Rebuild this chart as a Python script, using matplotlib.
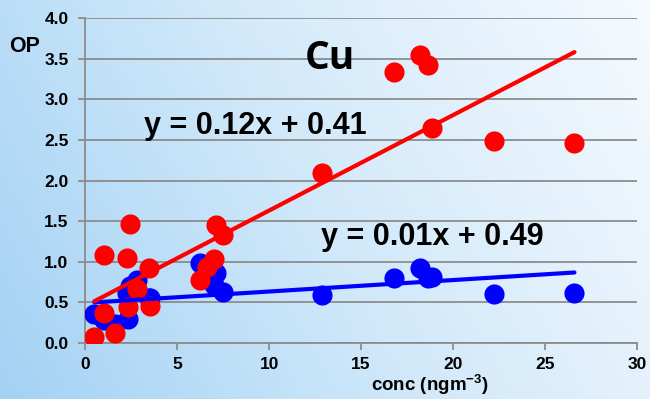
import numpy as np
import matplotlib
matplotlib.use('Agg')
import matplotlib.pyplot as plt
from matplotlib.colors import LinearSegmentedColormap

# Cu concentration (ngm-3) and OP for the two assays
conc = [0.5, 1.6, 1.0, 2.35, 3.5, 2.8, 3.45, 1.05, 2.25, 2.45,
        6.25, 6.6, 7.0, 7.1, 7.5,
        12.9, 16.8, 18.2, 18.65, 18.85, 22.2, 26.6]
op_red = [0.07, 0.12, 0.37, 0.44, 0.46, 0.66, 0.93, 1.09, 1.05, 1.46,
          0.78, 0.94, 1.04, 1.45, 1.33,
          2.09, 3.34, 3.55, 3.42, 2.65, 2.49, 2.46]
op_blue = [0.36, 0.24, 0.28, 0.30, 0.55, 0.78, 0.56, 0.30, 0.62, 0.70,
           0.98, 0.90, 0.72, 0.86, 0.63,
           0.59, 0.80, 0.93, 0.80, 0.81, 0.60, 0.62]

# trendlines
red_fit = (0.1174, 0.457)
blue_fit = (0.0141, 0.494)
red_label = 'y = 0.12x + 0.41'
blue_label = 'y = 0.01x + 0.49'

xticks = [0, 5, 10, 15, 20, 25, 30]
yticks = [0.0, 0.5, 1.0, 1.5, 2.0, 2.5, 3.0, 3.5, 4.0]

plt.rcParams['font.family'] = ['Liberation Sans', 'DejaVu Sans']
plt.rcParams['font.weight'] = 'bold'
plt.rcParams['mathtext.fontset'] = 'custom'
plt.rcParams['mathtext.bf'] = 'Liberation Sans:bold'
plt.rcParams['mathtext.rm'] = 'Liberation Sans:bold'

fig = plt.figure(figsize=(6.5, 3.99), dpi=100)

# light blue gradient background
bg = fig.add_axes([0, 0, 1, 1], zorder=-1)
gx, gy = np.meshgrid(np.linspace(0, 1, 300), np.linspace(0, 1, 200))
grad = np.clip(0.75 * gx + 0.25 * gy, 0, 1)
cmap = LinearSegmentedColormap.from_list('bg', ['#a4d2f4', '#d2e9fa', '#f6fafe'])
bg.imshow(grad, cmap=cmap, aspect='auto', origin='lower', extent=[0, 1, 0, 1])
bg.axis('off')

ax = fig.add_axes([0.131, 0.140, 0.849, 0.815])
ax.patch.set_alpha(0)

xs = np.array([min(conc), max(conc)])
ax.scatter(conc, op_blue, s=210, color='#0000ff', zorder=3, linewidths=0)
ax.scatter(conc, op_red, s=210, color='#ff0000', zorder=4, linewidths=0)
ax.plot(xs, blue_fit[0] * xs + blue_fit[1], color='#0000ff', lw=3, zorder=5,
        solid_capstyle='round')
ax.plot(xs, red_fit[0] * xs + red_fit[1], color='#ff0000', lw=3, zorder=5,
        solid_capstyle='round')

ax.set_xlim(0, 30)
ax.set_ylim(0, 4.0)
ax.set_xticks(xticks)
ax.set_yticks(yticks)
ax.set_yticklabels(['%.1f' % v for v in yticks])
ax.yaxis.grid(True, color='#8c8c8c', lw=1.3)
ax.set_axisbelow(True)
for s in ['top', 'right']:
    ax.spines[s].set_visible(False)
for s in ['left', 'bottom']:
    ax.spines[s].set_color('#8c8c8c')
    ax.spines[s].set_linewidth(1.3)
ax.tick_params(colors='#8c8c8c', labelcolor='black', width=1.3, length=5,
               labelsize=12.5, pad=7)
ax.tick_params(axis='x', pad=5)

ax.text(13.3, 3.5, 'Cu', fontsize=28, family='Open Sans', fontweight='bold',
        ha='center', va='center')
ax.text(9.24, 2.67, red_label, fontsize=22, fontweight='bold', ha='center', va='center')
ax.text(18.87, 1.31, blue_label, fontsize=22, fontweight='bold', ha='center', va='center')

fig.text(25 / 650, 1 - 46 / 399, 'OP', fontsize=15.5, fontweight='bold', ha='center', va='center')
fig.text(430 / 650, 2 / 399, r'conc (ngm$^{\mathbf{-3}}$)', fontsize=13.5,
         fontweight='bold', ha='center', va='bottom')

fig.savefig('out.png', dpi=100)
